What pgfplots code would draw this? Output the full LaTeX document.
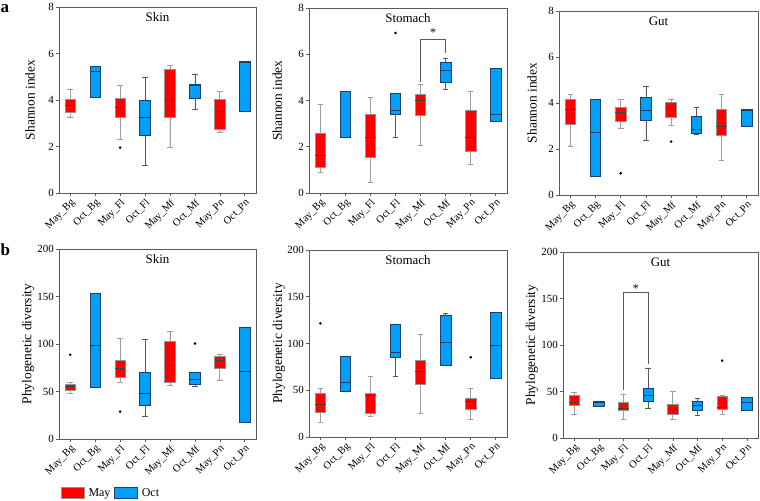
\documentclass[border=0pt]{standalone}
\usepackage{pgfplots}
\pgfplotsset{compat=1.18}
\usepgfplotslibrary{statistics}
\usepackage{fontspec}
\setmainfont{Liberation Serif}
\definecolor{myred}{RGB}{255,0,0}
\definecolor{myblue}{RGB}{0,160,250}
\definecolor{axgray}{RGB}{90,90,90}
\definecolor{bluedge}{RGB}{25,65,105}
\pgfplotsset{
  boxmyred/.style={fill=myred, draw=gray!85, line width=0.7bp,
    boxplot/every whisker/.style={draw=gray!75, line width=0.8bp},
    boxplot/every median/.style={draw=black!75, line width=0.8bp}},
  boxmyblue/.style={fill=myblue, draw=bluedge, line width=0.7bp,
    boxplot/every whisker/.style={draw=black!65, line width=0.7bp},
    boxplot/every median/.style={draw=bluedge, line width=0.8bp}},
}
% \bx{pos}{lw}{lq}{med}{uq}{uw}{color}
\newcommand{\bx}[7]{%
  \addplot[boxplot/draw direction=y,
    boxplot prepared={draw position=#1, lower whisker=#2, lower quartile=#3, median=#4, upper quartile=#5, upper whisker=#6, box extend=0.42, whisker extend=0.22},
    box#7] coordinates {};}
\pgfplotsset{panel/.style={
  scale only axis, xmin=-0.45, xmax=7.45, ymin=0,
  boxplot/draw direction=y,
  xtick={0,...,7},
  xticklabels={May\_Bg,Oct\_Bg,May\_Fl,Oct\_Fl,May\_Mf,Oct\_Mf,May\_Pn,Oct\_Pn},
  x tick label style={rotate=45, anchor=north east, inner sep=1.5bp, font=\fontsize{10.5}{12}\selectfont},
  y tick label style={font=\fontsize{11}{12}\selectfont, inner sep=2bp},
  /pgf/number format/assume math mode=true,
  tick align=outside, xtick pos=bottom, ytick pos=left,
  major tick length=3bp,
  axis line style={axgray, line width=0.7bp},
  tick style={axgray, line width=0.6bp},
  ylabel style={font=\fontsize{13.5}{15}\selectfont, anchor=center},
  clip=false,
}}
\newcommand{\outl}[2]{\addplot[only marks, mark=*, mark size=1.1bp, black] coordinates {(#1,#2)};}
\begin{document}
\begin{tikzpicture}[x=1bp,y=1bp]
\useasboundingbox (0,0) rectangle (760,501);
\node[font=\bfseries\fontsize{17}{18}\selectfont, anchor=north west, inner sep=0] at (0.5,496.5) {a};
\node[font=\bfseries\fontsize{17}{18}\selectfont, anchor=north west, inner sep=0] at (0.5,257) {b};

% ---------- a Skin
\begin{axis}[panel, at={(59bp,494bp)}, anchor=north west, width=197bp, height=186bp,
  ymax=8, ytick={0,2,4,6,8}, ylabel={Shannon index},
  ylabel style={at={(axis description cs:-0.147,0.5)}}]
\bx{0}{3.27}{3.47}{3.76}{4.04}{4.44}{myred}
\bx{1}{4.11}{4.11}{5.23}{5.45}{5.45}{myblue}
\bx{2}{2.29}{3.27}{3.70}{4.09}{4.63}{myred}
\bx{3}{1.19}{2.47}{3.24}{3.97}{4.99}{myblue}
\bx{4}{1.94}{3.25}{4.02}{5.30}{5.49}{myred}
\bx{5}{3.58}{4.09}{4.62}{4.68}{5.12}{myblue}
\bx{6}{2.62}{2.75}{3.51}{4.04}{4.37}{myred}
\bx{7}{3.53}{3.53}{5.63}{5.65}{5.65}{myblue}
\outl{2}{1.95}
\node[font=\fontsize{13}{15}\selectfont] at (rel axis cs:0.5,0.945) {Skin};
\end{axis}

% ---------- a Stomach
\begin{axis}[panel, at={(309bp,493bp)}, anchor=north west, width=198bp, height=185bp,
  ymax=8, ytick={0,2,4,6,8}, ylabel={Shannon index},
  ylabel style={at={(axis description cs:-0.16,0.5)}}]
\bx{0}{0.88}{1.10}{1.64}{2.60}{3.81}{myred}
\bx{1}{2.40}{2.40}{2.42}{4.41}{4.41}{myblue}
\bx{2}{0.45}{1.53}{2.40}{3.42}{4.12}{myred}
\bx{3}{2.39}{3.40}{3.59}{4.31}{4.31}{myblue}
\bx{4}{2.07}{3.36}{4.02}{4.27}{4.70}{myred}
\bx{5}{4.46}{4.78}{5.30}{5.66}{5.83}{myblue}
\bx{6}{1.24}{1.81}{2.39}{3.59}{4.41}{myred}
\bx{7}{3.11}{3.11}{3.40}{5.40}{5.40}{myblue}
\outl{3}{6.92}
\addplot[axgray, line width=0.7bp, mark=none] coordinates {(4,4.78) (4,6.66) (5,6.66) (5,6.05)};
\node[font=\fontsize{12}{13}\selectfont] at (axis cs:4.5,6.92) {*};
\node[font=\fontsize{13}{15}\selectfont] at (rel axis cs:0.5,0.945) {Stomach};
\end{axis}

% ---------- a Gut
\begin{axis}[panel, at={(559bp,490bp)}, anchor=north west, width=199bp, height=184bp,
  ymax=8, ytick={0,2,4,6,8}, ylabel={Shannon index},
  ylabel style={at={(axis description cs:-0.136,0.5)}}]
\bx{0}{2.13}{3.08}{3.72}{4.17}{4.38}{myred}
\bx{1}{0.80}{0.80}{2.71}{4.15}{4.15}{myblue}
\bx{2}{2.89}{3.18}{3.60}{3.83}{4.15}{myred}
\bx{3}{2.39}{3.23}{3.68}{4.23}{4.73}{myblue}
\bx{4}{3.02}{3.37}{3.81}{4.02}{4.15}{myred}
\bx{5}{2.65}{2.68}{2.85}{3.43}{3.83}{myblue}
\bx{6}{1.51}{2.59}{3.00}{3.72}{4.38}{myred}
\bx{7}{3.00}{3.00}{3.69}{3.72}{3.72}{myblue}
\outl{2}{0.94}
\outl{4}{2.32}
\node[font=\fontsize{13}{15}\selectfont] at (rel axis cs:0.5,0.945) {Gut};
\end{axis}

% ---------- b Skin
\begin{axis}[panel, at={(59bp,252bp)}, anchor=north west, width=197bp, height=190bp,
  ymax=200, ytick={0,50,100,150,200}, ylabel={Phylogenetic diversity},
  ylabel style={at={(axis description cs:-0.157,0.5)}},
  legend columns=2,
  legend style={at={(axis description cs:0.01,-0.285)}, anchor=west, draw=none, fill=none,
    font=\fontsize{12}{13}\selectfont, column sep=2bp, inner sep=0pt},
  legend image code/.code={\draw[#1] (0bp,-5.5bp) rectangle (23bp,5.5bp);}]
\addlegendimage{fill=myred, draw=gray!85}
\addlegendentry{May}
\addlegendimage{fill=myblue, draw=bluedge}
\addlegendentry{Oct}
\bx{0}{48.2}{51.0}{55.2}{57.6}{59.8}{myred}
\bx{1}{54.1}{54.1}{98.8}{152.9}{152.9}{myblue}
\bx{2}{59.8}{65.0}{73.8}{82.6}{106.2}{myred}
\bx{3}{24.3}{35.9}{48.2}{69.9}{104.4}{myblue}
\bx{4}{56.2}{60.1}{77.3}{102.6}{113.2}{myred}
\bx{5}{55.2}{58.0}{62.9}{69.9}{69.9}{myblue}
\bx{6}{62.2}{74.2}{82.6}{86.8}{88.9}{myred}
\bx{7}{18.0}{18.0}{71.6}{118.0}{118.0}{myblue}
\outl{0}{88.6}
\outl{2}{28.8}
\outl{5}{100.5}
\node[font=\fontsize{13}{15}\selectfont] at (rel axis cs:0.5,0.945) {Skin};
\end{axis}

% ---------- b Stomach
\begin{axis}[panel, at={(309bp,251bp)}, anchor=north west, width=198bp, height=187bp,
  ymax=200, ytick={0,50,100,150,200}, ylabel={Phylogenetic diversity},
  ylabel style={at={(axis description cs:-0.152,0.5)}}]
\bx{0}{15.3}{26.6}{35.2}{47.2}{51.5}{myred}
\bx{1}{48.7}{48.7}{58.6}{86.0}{86.0}{myblue}
\bx{2}{22.4}{25.6}{44.4}{46.9}{65.0}{myred}
\bx{3}{64.7}{85.3}{90.6}{120.1}{120.1}{myblue}
\bx{4}{25.6}{55.8}{70.0}{81.7}{109.8}{myred}
\bx{5}{76.7}{76.7}{101.2}{129.7}{132.5}{myblue}
\bx{6}{18.8}{29.5}{38.4}{40.9}{51.5}{myred}
\bx{7}{62.9}{62.9}{97.7}{133.2}{133.2}{myblue}
\outl{0}{121.5}
\outl{6}{85.3}
\node[font=\fontsize{13}{15}\selectfont] at (rel axis cs:0.5,0.945) {Stomach};
\end{axis}

% ---------- b Gut
\begin{axis}[panel, at={(563bp,249bp)}, anchor=north west, width=195bp, height=186bp,
  ymax=200, ytick={0,50,100,150,200}, ylabel={Phylogenetic diversity},
  ylabel style={at={(axis description cs:-0.159,0.5)}}]
\bx{0}{25.1}{35.5}{38.7}{46.2}{49.1}{myred}
\bx{1}{34.4}{34.4}{38.7}{39.8}{39.8}{myblue}
\bx{2}{20.4}{29.4}{32.3}{38.7}{46.6}{myred}
\bx{3}{32.3}{39.4}{45.5}{53.8}{75.3}{myblue}
\bx{4}{20.4}{25.8}{30.5}{36.2}{50.2}{myred}
\bx{5}{24.4}{29.4}{35.5}{39.4}{42.7}{myblue}
\bx{6}{25.8}{31.2}{33.3}{44.8}{45.5}{myred}
\bx{7}{29.7}{29.7}{38.0}{43.7}{43.7}{myblue}
\outl{6}{83.2}
\addplot[axgray, line width=0.7bp, mark=none] coordinates {(2,52) (2,157) (3,157) (3,80)};
\node[font=\fontsize{12}{13}\selectfont] at (axis cs:2.5,161) {*};
\node[font=\fontsize{13}{15}\selectfont] at (rel axis cs:0.5,0.945) {Gut};
\end{axis}
\end{tikzpicture}
\end{document}
